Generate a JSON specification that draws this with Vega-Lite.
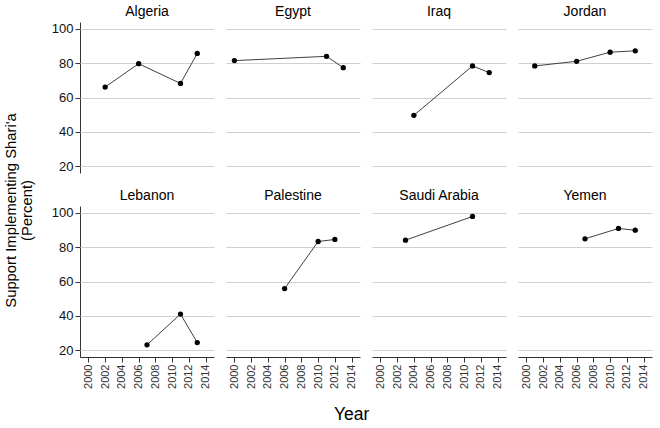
{
  "$schema": "https://vega.github.io/schema/vega-lite/v6.json",
  "padding": {"left": 3, "top": 5, "right": 3, "bottom": 5},
  "data": {
    "values": [
      {"country": "Algeria", "year": 2002, "pct": 66.1},
      {"country": "Algeria", "year": 2006, "pct": 79.7},
      {"country": "Algeria", "year": 2011, "pct": 68.2},
      {"country": "Algeria", "year": 2013, "pct": 85.7},
      {"country": "Egypt", "year": 2000, "pct": 81.5},
      {"country": "Egypt", "year": 2011, "pct": 84.0},
      {"country": "Egypt", "year": 2013, "pct": 77.4},
      {"country": "Iraq", "year": 2004, "pct": 49.6},
      {"country": "Iraq", "year": 2011, "pct": 78.4},
      {"country": "Iraq", "year": 2013, "pct": 74.5},
      {"country": "Jordan", "year": 2001, "pct": 78.4},
      {"country": "Jordan", "year": 2006, "pct": 81.1},
      {"country": "Jordan", "year": 2010, "pct": 86.4},
      {"country": "Jordan", "year": 2013, "pct": 87.2},
      {"country": "Lebanon", "year": 2007, "pct": 23.1},
      {"country": "Lebanon", "year": 2011, "pct": 41.0},
      {"country": "Lebanon", "year": 2013, "pct": 24.4},
      {"country": "Palestine", "year": 2006, "pct": 55.9},
      {"country": "Palestine", "year": 2010, "pct": 83.3},
      {"country": "Palestine", "year": 2012, "pct": 84.5},
      {"country": "Saudi Arabia", "year": 2003, "pct": 84.1},
      {"country": "Saudi Arabia", "year": 2011, "pct": 97.9},
      {"country": "Yemen", "year": 2007, "pct": 84.9},
      {"country": "Yemen", "year": 2011, "pct": 90.9},
      {"country": "Yemen", "year": 2013, "pct": 89.9}
    ]
  },
  "title": {
    "text": ["Support Implementing Shari'a", "(Percent)"],
    "orient": "left",
    "anchor": "middle",
    "fontSize": 14.8,
    "fontWeight": "normal",
    "lineHeight": 16,
    "color": "#000000",
    "offset": 17,
    "dx": 4
  },
  "spacing": 15,
  "vconcat": [
    {
      "transform": [{"filter": {"field": "country", "oneOf": ["Algeria", "Egypt", "Iraq", "Jordan"]}}],
      "facet": {
        "column": {
          "field": "country",
          "type": "nominal",
          "sort": ["Algeria", "Egypt", "Iraq", "Jordan"],
          "header": {"title": null, "labelFontSize": 14, "labelColor": "#000000", "labelPadding": 3}
        }
      },
      "spacing": 12,
      "spec": {
        "width": 134,
        "height": 151,
        "encoding": {
          "x": {
            "field": "year",
            "type": "quantitative",
            "scale": {"domain": [1999, 2015], "nice": false, "zero": false},
            "axis": null
          },
          "y": {
            "field": "pct",
            "type": "quantitative",
            "scale": {"domain": [16, 104], "nice": false, "zero": false},
            "axis": {"title": null, "values": [20, 40, 60, 80, 100]}
          }
        },
        "layer": [
          {"mark": {"type": "line", "color": "#404040", "strokeWidth": 1}},
          {"mark": {"type": "point", "filled": true, "color": "#000000", "size": 28, "opacity": 1}}
        ]
      }
    },
    {
      "transform": [{"filter": {"field": "country", "oneOf": ["Lebanon", "Palestine", "Saudi Arabia", "Yemen"]}}],
      "title": {
        "text": "Year",
        "orient": "bottom",
        "anchor": "middle",
        "fontSize": 17.5,
        "fontWeight": "normal",
        "color": "#000000",
        "offset": 18,
        "dx": 0
      },
      "facet": {
        "column": {
          "field": "country",
          "type": "nominal",
          "sort": ["Lebanon", "Palestine", "Saudi Arabia", "Yemen"],
          "header": {"title": null, "labelFontSize": 14, "labelColor": "#000000", "labelPadding": 3}
        }
      },
      "spacing": 12,
      "spec": {
        "width": 134,
        "height": 151,
        "encoding": {
          "x": {
            "field": "year",
            "type": "quantitative",
            "scale": {"domain": [1999, 2015], "nice": false, "zero": false},
            "axis": {
              "title": null,
              "values": [2000, 2002, 2004, 2006, 2008, 2010, 2012, 2014],
              "format": "d",
              "labelAngle": -90,
              "labelFontSize": 11,
              "labelColor": "#333333",
              "labelPadding": 2,
              "grid": false
            }
          },
          "y": {
            "field": "pct",
            "type": "quantitative",
            "scale": {"domain": [16, 104], "nice": false, "zero": false},
            "axis": {"title": null, "values": [20, 40, 60, 80, 100]}
          }
        },
        "layer": [
          {"mark": {"type": "line", "color": "#404040", "strokeWidth": 1}},
          {"mark": {"type": "point", "filled": true, "color": "#000000", "size": 28, "opacity": 1}}
        ]
      }
    }
  ],
  "config": {
    "font": "Liberation Sans",
    "view": {"stroke": null},
    "axis": {
      "domainColor": "#333333",
      "tickColor": "#333333",
      "tickSize": 5,
      "labelFontSize": 13,
      "labelColor": "#111111",
      "gridColor": "#d0d0d0"
    }
  }
}
